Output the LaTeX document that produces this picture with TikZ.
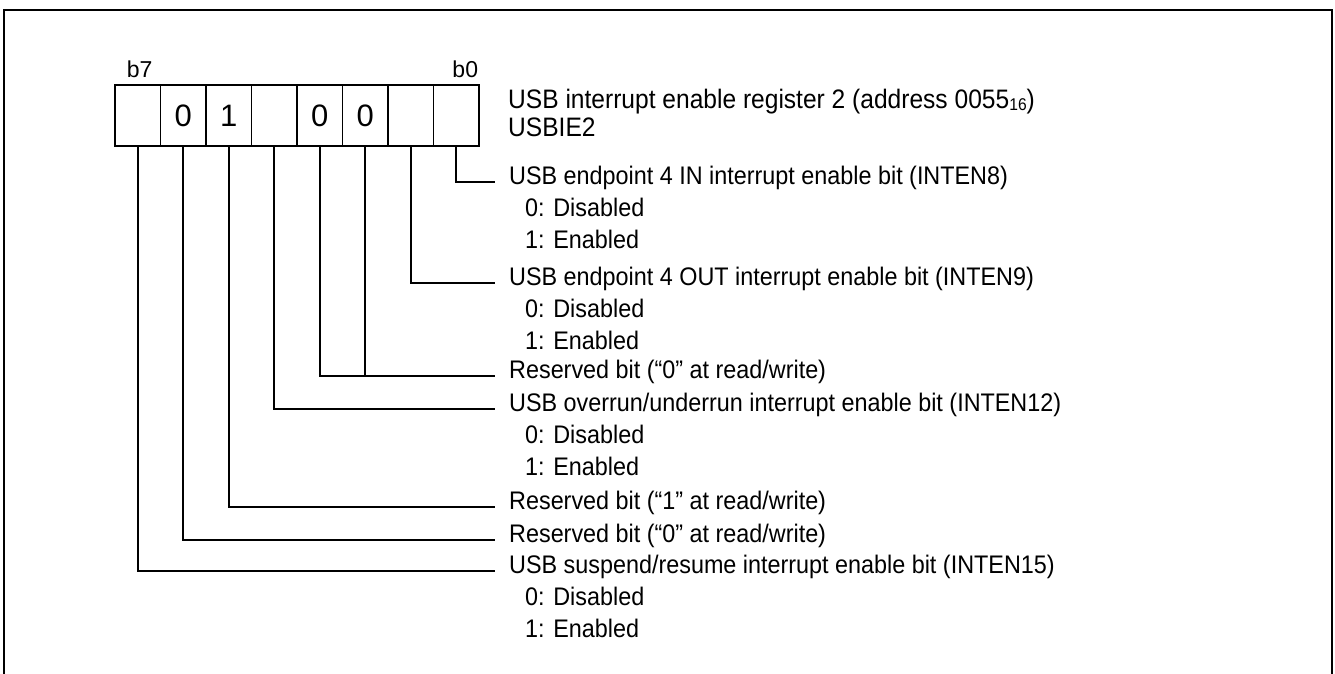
\documentclass[tikz,border=0pt]{standalone}
\usepackage{fontspec}
\setmainfont{Liberation Sans}
\newfontfamily\narrowsans[FakeStretch=0.92]{Liberation Sans}
\usetikzlibrary{positioning}

\begin{document}
\begin{tikzpicture}[x=1pt, y=-1pt,
  bitcell/.style={draw, line width=1.6pt, minimum width=45.5pt, minimum height=61pt,
                  inner sep=0pt, font=\fontsize{31}{31}\selectfont},
  bitnum/.style={inner sep=0pt, font=\fontsize{23}{23}\selectfont},
  desc/.style={anchor=mid west, inner sep=0pt, font=\narrowsans\fontsize{25.4}{25.4}\selectfont},
  wire/.style={line width=1.6pt}]

\useasboundingbox (0,0) rectangle (1335,673);

%frame
  \draw[line width=2.6pt] (4,690) -- (4,10) -- (1332,10) -- (1332,690);

%register cells
  \foreach \b/\v [count=\k from 0] in {7/,6/0,5/1,4/,3/0,2/0,1/,0/}
    \node[bitcell] (bit\b) at (137.75+45.5*\k,115.5) {\v};

  \node[bitnum, above=6pt of bit7, xshift=2pt] (b7lab) {b7};
  \node[bitnum, above=6pt of bit0, xshift=9pt] (b0lab) {b0};

%register name
  \node[anchor=base west, inner sep=0pt, font=\narrowsans\fontsize{26.7}{26.7}\selectfont] (regtitle) at (508,108)
    {USB interrupt enable register 2 (address 0055{\fontsize{17}{17}\selectfont\raisebox{-2pt}{16}})};
  \node[anchor=base west, inner sep=0pt, font=\narrowsans\fontsize{26.7}{26.7}\selectfont] (regname) at (508,136) {USBIE2};

%line ends
  \coordinate (end0)  at (495,182);
  \coordinate (end1)  at (495,283);
  \coordinate (end23) at (495,376);
  \coordinate (end4)  at (495,409);
  \coordinate (end5)  at (495,507);
  \coordinate (end6)  at (495,540);
  \coordinate (end7)  at (495,571);

%bit descriptions
  \node[desc] (inten8)     at (509,182) {USB endpoint 4 IN interrupt enable bit (INTEN8)};
  \node[desc] (inten8off)  at (525,214) {0: Disabled};
  \node[desc] (inten8on)   at (525,246) {1: Enabled};
  \node[desc] (inten9)     at (509,283) {USB endpoint 4 OUT interrupt enable bit (INTEN9)};
  \node[desc] (inten9off)  at (525,315) {0: Disabled};
  \node[desc] (inten9on)   at (525,347) {1: Enabled};
  \node[desc] (rsvd23)     at (509,376) {Reserved bit (“0” at read/write)};
  \node[desc] (inten12)    at (509,409) {USB overrun/underrun interrupt enable bit (INTEN12)};
  \node[desc] (inten12off) at (525,441) {0: Disabled};
  \node[desc] (inten12on)  at (525,473) {1: Enabled};
  \node[desc] (rsvd5)      at (509,507) {Reserved bit (“1” at read/write)};
  \node[desc] (rsvd6)      at (509,540) {Reserved bit (“0” at read/write)};
  \node[desc] (inten15)    at (509,571) {USB suspend/resume interrupt enable bit (INTEN15)};
  \node[desc] (inten15off) at (525,603) {0: Disabled};
  \node[desc] (inten15on)  at (525,635) {1: Enabled};

%connectors
  \foreach \b/\e in {0/end0,1/end1,3/end23,4/end4,5/end5,6/end6,7/end7}
    \draw[wire] (bit\b.south) |- (\e);
  \draw[wire] (bit2.south) -- (bit2.south |- end23);
\end{tikzpicture}
\end{document}
